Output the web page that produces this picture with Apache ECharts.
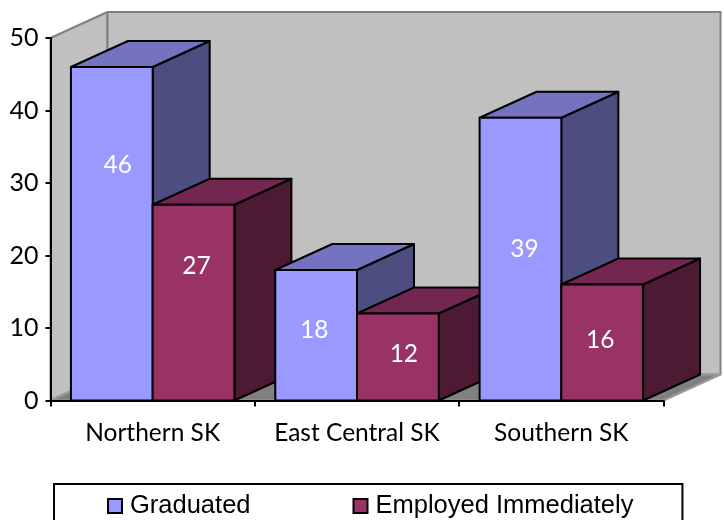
<!DOCTYPE html>
<html lang="en">

<head>
    <meta charset="UTF-8">
    <title>Graduated and employed</title>
    <script src="https://cdn.jsdelivr.net/npm/echarts@6/dist/echarts.min.js"></script>
    <style>
        html, body { margin: 0; background: #fff; }
        #main { width: 724px; height: 520px; }
    </style>
</head>

<body>
    <div id="main"></div>
    <script>
        var categories = ['Northern SK', 'East Central SK', 'Southern SK'];
        var graduated = [46, 18, 39];
        var employed = [27, 12, 16];
        var valueTicks = [0, 50, 10];

        // the labels were hand placed in the original, so not centred on the bars
        var labelHeight = [[0.29, 0.31], [0.45, 0.45], [0.46, 0.47]];
        var labelShift = [[6, 3], [-2, 6], [4, -2]];

        var depthX = 57, depthY = 26;
        var labelFont = 'Lato, "Open Sans", sans-serif';

        function poly(points, fill, z2, stroke, width) {
            return {
                type: 'polygon',
                z2: z2,
                shape: { points: points },
                style: { fill: fill, stroke: stroke || '#000', lineWidth: width === undefined ? 2 : width, lineJoin: 'round' }
            };
        }

        function barRenderer(serIdx, front, top, side) {
            return function (params, api) {
                var cat = api.value(0), val = api.value(1);
                var p = api.coord([cat, val]), base = api.coord([cat, 0]);
                var w = api.size([1, 0])[0] * 0.4;
                var x0 = p[0] + (serIdx - 1) * w, x1 = x0 + w;
                var z = cat * 4 + serIdx * 2;
                return {
                    type: 'group',
                    children: [
                        poly([[x1, p[1]], [x1 + depthX, p[1] - depthY], [x1 + depthX, base[1] - depthY], [x1, base[1]]], side, z),
                        poly([[x0, p[1]], [x0 + depthX, p[1] - depthY], [x1 + depthX, p[1] - depthY], [x1, p[1]]], top, z),
                        poly([[x0, p[1]], [x1, p[1]], [x1, base[1]], [x0, base[1]]], front, z),
                        {
                            type: 'text',
                            z2: z + 1,
                            style: {
                                x: (x0 + x1) / 2 + labelShift[cat][serIdx],
                                y: p[1] + (base[1] - p[1]) * labelHeight[cat][serIdx] + 1,
                                text: String(val),
                                fill: '#fff',
                                font: '24.5px ' + labelFont,
                                align: 'center',
                                verticalAlign: 'middle'
                            }
                        }
                    ]
                };
            };
        }

        function wallRenderer(params, api) {
            var band = api.size([1, 0])[0];
            var first = api.coord([0, 0]), last = api.coord([categories.length - 1, 0]);
            var tl = api.coord([0, valueTicks[1]]);
            var left = first[0] - band / 2, right = last[0] + band / 2;
            var bottom = first[1], top = tl[1];
            var dx = depthX, dy = depthY;
            var wall = '#C0C0C0', edge = '#808080';
            return {
                type: 'group',
                children: [
                    poly([[left, bottom], [left, top], [left + dx, top - dy], [left + dx, bottom - dy]], wall, 1, edge, 2),
                    poly([[left + dx, top - dy], [right + dx, top - dy], [right + dx, bottom - dy], [left + dx, bottom - dy]], wall, 1, edge, 2),
                    poly([[left, bottom], [right, bottom], [right + dx, bottom - dy], [left + dx, bottom - dy]], '#808080', 2, '#9A9A9A', 2)
                ]
            };
        }

        var myChart = echarts.init(document.getElementById('main'));
        var option = {
            animation: false,
            backgroundColor: '#fff',
            grid: { left: 50.5, right: 60.5, top: 38, bottom: 119.5, containLabel: false },
            legend: {
                data: ['Graduated', 'Employed Immediately'],
                left: 54,
                top: 484,
                icon: 'rect',
                itemWidth: 14,
                itemHeight: 14,
                itemGap: 102,
                padding: [9, 49, 30, 53],
                borderColor: '#000',
                borderWidth: 2,
                itemStyle: { borderColor: '#000', borderWidth: 2 },
                textStyle: { fontFamily: '"Liberation Sans", Arial, sans-serif', fontSize: 25.5, color: '#000', padding: [0, 0, 0, 3] }
            },
            xAxis: {
                type: 'category',
                data: categories,
                axisLine: { lineStyle: { color: '#000', width: 2 } },
                axisTick: { show: true, interval: 0, length: 6, lineStyle: { color: '#000', width: 2 } },
                axisLabel: { interval: 0, fontFamily: labelFont, fontSize: 24.5, color: '#000', margin: 20 }
            },
            yAxis: {
                type: 'value',
                min: valueTicks[0],
                max: valueTicks[1],
                interval: valueTicks[2],
                splitLine: { show: false },
                axisLine: { show: true, lineStyle: { color: '#000', width: 2 } },
                axisTick: { show: true, length: 5, lineStyle: { color: '#000', width: 2 } },
                axisLabel: { fontFamily: labelFont, fontSize: 25, color: '#000', margin: 12 }
            },
            series: [
                { type: 'custom', name: 'walls', z: -1, silent: true, renderItem: wallRenderer, data: [[0, 0]] },
                {
                    type: 'custom', name: 'Graduated', itemStyle: { color: '#9999FF' },
                    renderItem: barRenderer(0, '#9999FF', '#7373BF', '#4D4D80'),
                    data: graduated.map(function (v, i) { return [i, v]; })
                },
                {
                    type: 'custom', name: 'Employed Immediately', itemStyle: { color: '#993366' },
                    renderItem: barRenderer(1, '#993366', '#732650', '#4D1A33'),
                    data: employed.map(function (v, i) { return [i, v]; })
                }
            ]
        };
        option && myChart.setOption(option);
    </script>
</body>

</html>
